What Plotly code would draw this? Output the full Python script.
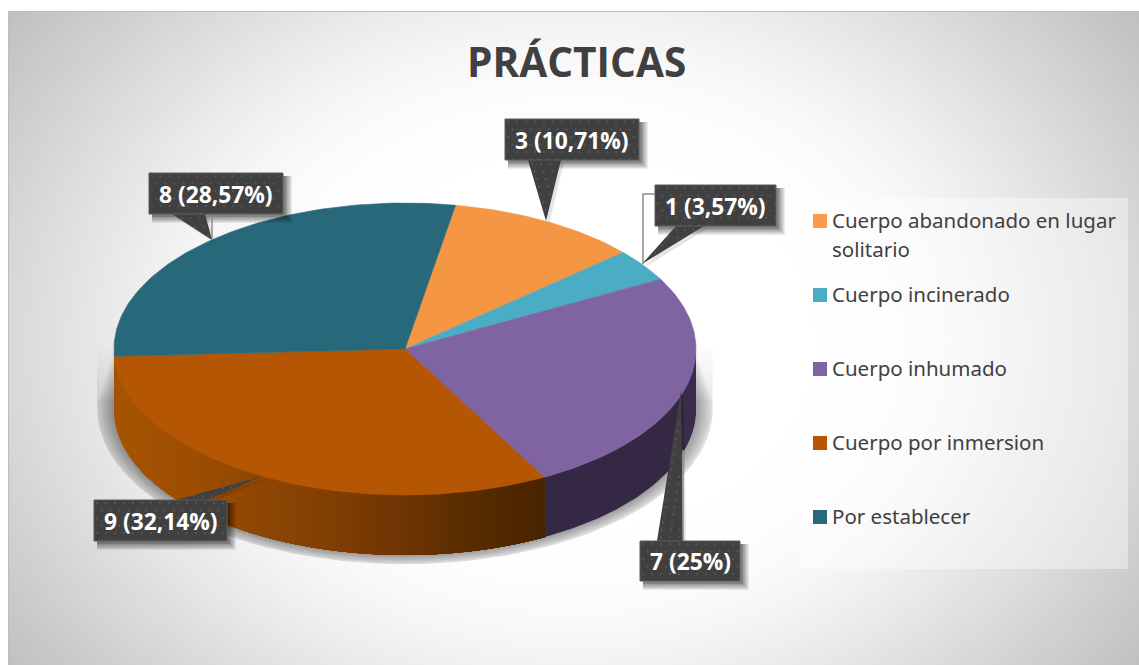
import numpy as np
import plotly.graph_objects as go

# ---- data ----
categories = ["Cuerpo abandonado en lugar<br>solitario", "Cuerpo incinerado", "Cuerpo inhumado",
              "Cuerpo por inmersion", "Por establecer"]
values = [3, 1, 7, 9, 8]
top_colors = ["#F59645", "#4BACC6", "#8064A2", "#B55604", "#27697B"]
legend_colors = ["#FB9A4B", "#4BACC6", "#8064A2", "#B55604", "#27697B"]
title_text = "PRÁCTICAS"

# ---- geometry of the tilted pie (layout, pixels) ----
W, H = 1139, 665
CX, CY, RX, RY, DEPTH = 405.0, 349.0, 291.0, 146.0, 60.0
START = 10.0
DARK = "#404040"

# callout: box x0,x1,y0,y1 ; pointer base xa,xb,ybase ; tip ; leader polyline
callouts = [
    dict(box=(505, 639, 119, 160), base=(528, 561, 160), tip=(546, 221), leader=None),
    dict(box=(655, 776, 185, 226), base=(676, 704, 226), tip=(642, 264), leader=[(655, 194), (643, 194), (643, 264)]),
    dict(box=(640, 740, 541, 581), base=(657, 683, 541), tip=(681, 390), leader=[(683, 541), (683, 450)]),
    dict(box=(94, 227, 500, 541), base=(176, 207, 500), tip=(263, 476), leader=None),
    dict(box=(149, 283, 173, 214), base=(172, 205, 214), tip=(212, 240), leader=[(212, 214), (212, 240)]),
]
legend_y = [220, 294, 368, 442, 516]
LEGEND_LINE = 29


def ex(t):
    return CX + RX * np.sin(np.radians(t))


def ey(t):
    return CY - RY * np.cos(np.radians(t))


def flat(xs, ys, color):
    return go.Scatter(x=list(xs), y=list(ys), mode="lines", fill="toself", fillcolor=color,
                      line=dict(width=0), hoverinfo="skip", showlegend=False)


def poly(xs, ys, color):
    return go.Scatter(x=list(xs), y=list(ys), mode="lines", fill="toself", fillcolor=color,
                      line=dict(color=color, width=0.6), hoverinfo="skip", showlegend=False)


fig = go.Figure()

# background gradient
gx = np.linspace(0, W, 58)
gy = np.linspace(0, H, 34)
XX, YY = np.meshgrid(gx, gy)
dist = np.sqrt(((XX - 573) / 565) ** 2 + ((YY - 342) / 444) ** 2)
soft = 0.07 * np.log1p(np.exp((dist - 0.613) / 0.07))
gray = np.clip(255 - 100.7 * soft, 190, 255)
fig.add_trace(go.Heatmap(x=gx, y=gy, z=gray, zmin=190, zmax=255, zsmooth="best", showscale=False,
                         colorscale=[[0, "rgb(190,190,190)"], [1, "rgb(255,255,255)"]], hoverinfo="skip"))
# white page above and left of the chart area, with its thin frame
fig.add_trace(flat([0, W, W, 0], [0, 0, 11, 11], "#ffffff"))
fig.add_trace(flat([0, 8, 8, 0], [0, 0, H, H], "#ffffff"))
fig.add_trace(go.Scatter(x=[8.5, 8.5, W], y=[H, 11.5, 11.5], mode="lines", line=dict(color="#bdbdbd", width=1),
                         hoverinfo="skip", showlegend=False))

# legend panel
fig.add_trace(flat([801, 1128, 1128, 801], [198, 198, 569, 569], "rgba(255,255,255,0.40)"))


def shadow_layer(k, top, color):
    t = np.linspace(90, 270, 90)
    sx = CX + (RX + k) * np.sin(np.radians(t))
    sy = CY + DEPTH - (RY + k * 0.55) * np.cos(np.radians(t))
    sx = np.concatenate([[CX + RX + k], sx, [CX - RX - k]])
    sy = np.concatenate([[top], sy, [top]])
    fig.add_trace(flat(sx, sy, color))


# soft shadow under the pie: a faint base fading in from the top, then tighter layers
for top in range(345, 405, 5):
    shadow_layer(17, top, "rgba(0,0,0,0.006)")
for k in range(17, 0, -1):
    shadow_layer(k, 350 + k * 3, "rgba(0,0,0,0.018)")

# slice angles from the values
fractions = np.array(values, dtype=float) / sum(values)
edges = START + np.concatenate([[0], np.cumsum(fractions)]) * 360

# side walls (only the part facing the viewer); each band is painted over the previous one
stops_x = [113, 200, 280, 350, 400, 450, 546]
stops_r = [0xA8, 0x9C, 0x8A, 0x7C, 0x6E, 0x5E, 0x47]
stops_g = [0x54, 0x4D, 0x44, 0x3C, 0x35, 0x2E, 0x24]
stops_b = [0x02, 0x03, 0x03, 0x03, 0x03, 0x01, 0x00]


def wall(a, b, col):
    tt = np.linspace(a, b, max(4, int(b - a) + 2))
    xs, ys = ex(tt), ey(tt)
    fig.add_trace(flat(np.r_[xs, xs[::-1]], np.r_[ys, ys[::-1] + DEPTH], col))


purple_i, orange_i = 2, 3
wall(max(edges[purple_i], 90), edges[purple_i + 1], "#352845")
tx_edge = np.degrees(np.arcsin((683 - CX) / RX))
wall(max(edges[purple_i], 90), 180 - tx_edge, "#3A2C4C")
ts = np.linspace(edges[orange_i], 270, 90)
# paint from the light left end towards the dark right end
for t0 in ts[::-1][:-1]:
    mx = float(ex(t0))
    col = "rgb(%d,%d,%d)" % (np.interp(mx, stops_x, stops_r), np.interp(mx, stops_x, stops_g),
                              np.interp(mx, stops_x, stops_b))
    wall(edges[orange_i], t0, col)

# top face
for i in range(len(values)):
    tt = np.linspace(edges[i], edges[i + 1], max(8, int(edges[i + 1] - edges[i])))
    fig.add_trace(poly(np.r_[CX, ex(tt), CX], np.r_[CY, ey(tt), CY], top_colors[i]))

# data-label callouts
for v, c in zip(values, callouts):
    x0, x1, y0, y1 = c["box"]
    xa, xb, yb = c["base"]
    tx, ty = c["tip"]
    if yb == y0:
        px = [x0, xa, tx, xb, x1, x1, x0, x0]
        py = [y0, y0, ty, y0, y0, y1, y1, y0]
    else:
        px = [x0, x1, x1, xb, tx, xa, x0, x0]
        py = [y0, y0, y1, y1, ty, y1, y1, y0]
    px = np.array(px, float)
    py = np.array(py, float)
    # drop shadow of the box
    for s in range(6, -1, -1):
        fig.add_trace(flat([x0 + 3, x1 + 3 + s, x1 + 3 + s, x0 + 3],
                           [y0 + 3, y0 + 3, y1 + 3 + s, y1 + 3 + s],
                           "rgba(0,0,0,0.07)"))
    fig.add_trace(flat(px + 3, py + 3, "rgba(0,0,0,0.10)"))
    fig.add_trace(flat(px, py, DARK))
    if c["leader"]:
        lx, ly = zip(*c["leader"])
        fig.add_trace(go.Scatter(x=lx, y=ly, mode="lines", line=dict(color="#8c8c8c", width=1.5),
                                 hoverinfo="skip", showlegend=False))
    # dotted texture
    dots_x, dots_y = [], []
    for row, yy in enumerate(np.arange(y0 + 3, y1, 7.5)):
        for xx in np.arange(x0 + 3 + (row % 2) * 4.5, x1, 9):
            dots_x.append(xx)
            dots_y.append(yy)
    n_steps = int(abs(ty - yb) / 7.5)
    for j in range(n_steps):
        f = (j + 0.5) / max(n_steps, 1)
        yy = yb + (ty - yb) * f
        left = xa + (tx - xa) * f
        right = xb + (tx - xb) * f
        for xx in np.arange(min(left, right) + 3, max(left, right) - 2, 9):
            dots_x.append(xx)
            dots_y.append(yy)
    fig.add_trace(go.Scatter(x=dots_x, y=dots_y, mode="markers",
                             marker=dict(size=2.2, color="#585858", line=dict(width=0)),
                             hoverinfo="skip", showlegend=False))
    # frame of the box
    fig.add_trace(go.Scatter(x=[x0, x1, x1, x0, x0], y=[y0, y0, y1, y1, y0], mode="lines",
                             line=dict(color="#5c5c5c", width=1), hoverinfo="skip", showlegend=False))

annotations = []
total = sum(values)
for v, c in zip(values, callouts):
    x0, x1, y0, y1 = c["box"]
    pct = f"{round(100 * v / total, 2):g}".replace(".", ",")
    annotations.append(dict(x=(x0 + x1) / 2, y=(y0 + y1) / 2 + 0.5, xref="x", yref="y", showarrow=False,
                            text=f"<b>{v} ({pct}%)</b>", xanchor="center", yanchor="middle",
                            font=dict(family="Open Sans", size=22.8, color="#ffffff")))

# legend
fig.add_trace(go.Scatter(x=[820] * len(values), y=[y + 1 for y in legend_y], mode="markers",
                         marker=dict(symbol="square", size=14, color=legend_colors, line=dict(width=0)),
                         hoverinfo="skip", showlegend=False))
for name, yy in zip(categories, legend_y):
    for j, line in enumerate(name.split("<br>")):
        annotations.append(dict(x=830, y=yy + j * LEGEND_LINE, xref="x", yref="y", showarrow=False, text=line,
                                xanchor="left", yanchor="middle",
                                font=dict(family="Noto Sans", size=20.5, color="#404040")))

annotations.append(dict(x=576.5, y=61, xref="x", yref="y", showarrow=False, text=f"<b>{title_text}</b>",
                        xanchor="center", yanchor="middle",
                        font=dict(family="Open Sans", size=40.6, color="#404040")))

fig.update_layout(width=W, height=H, margin=dict(l=0, r=0, t=0, b=0), paper_bgcolor="#ffffff",
                  plot_bgcolor="#ffffff", showlegend=False, annotations=annotations,
                  xaxis=dict(range=[0, W], visible=False, fixedrange=True),
                  yaxis=dict(range=[H, 0], visible=False, fixedrange=True))
fig.write_html("out.html", config=dict(displayModeBar=False),
               post_script="document.body.style.margin='0';document.documentElement.style.overflow='hidden';")
